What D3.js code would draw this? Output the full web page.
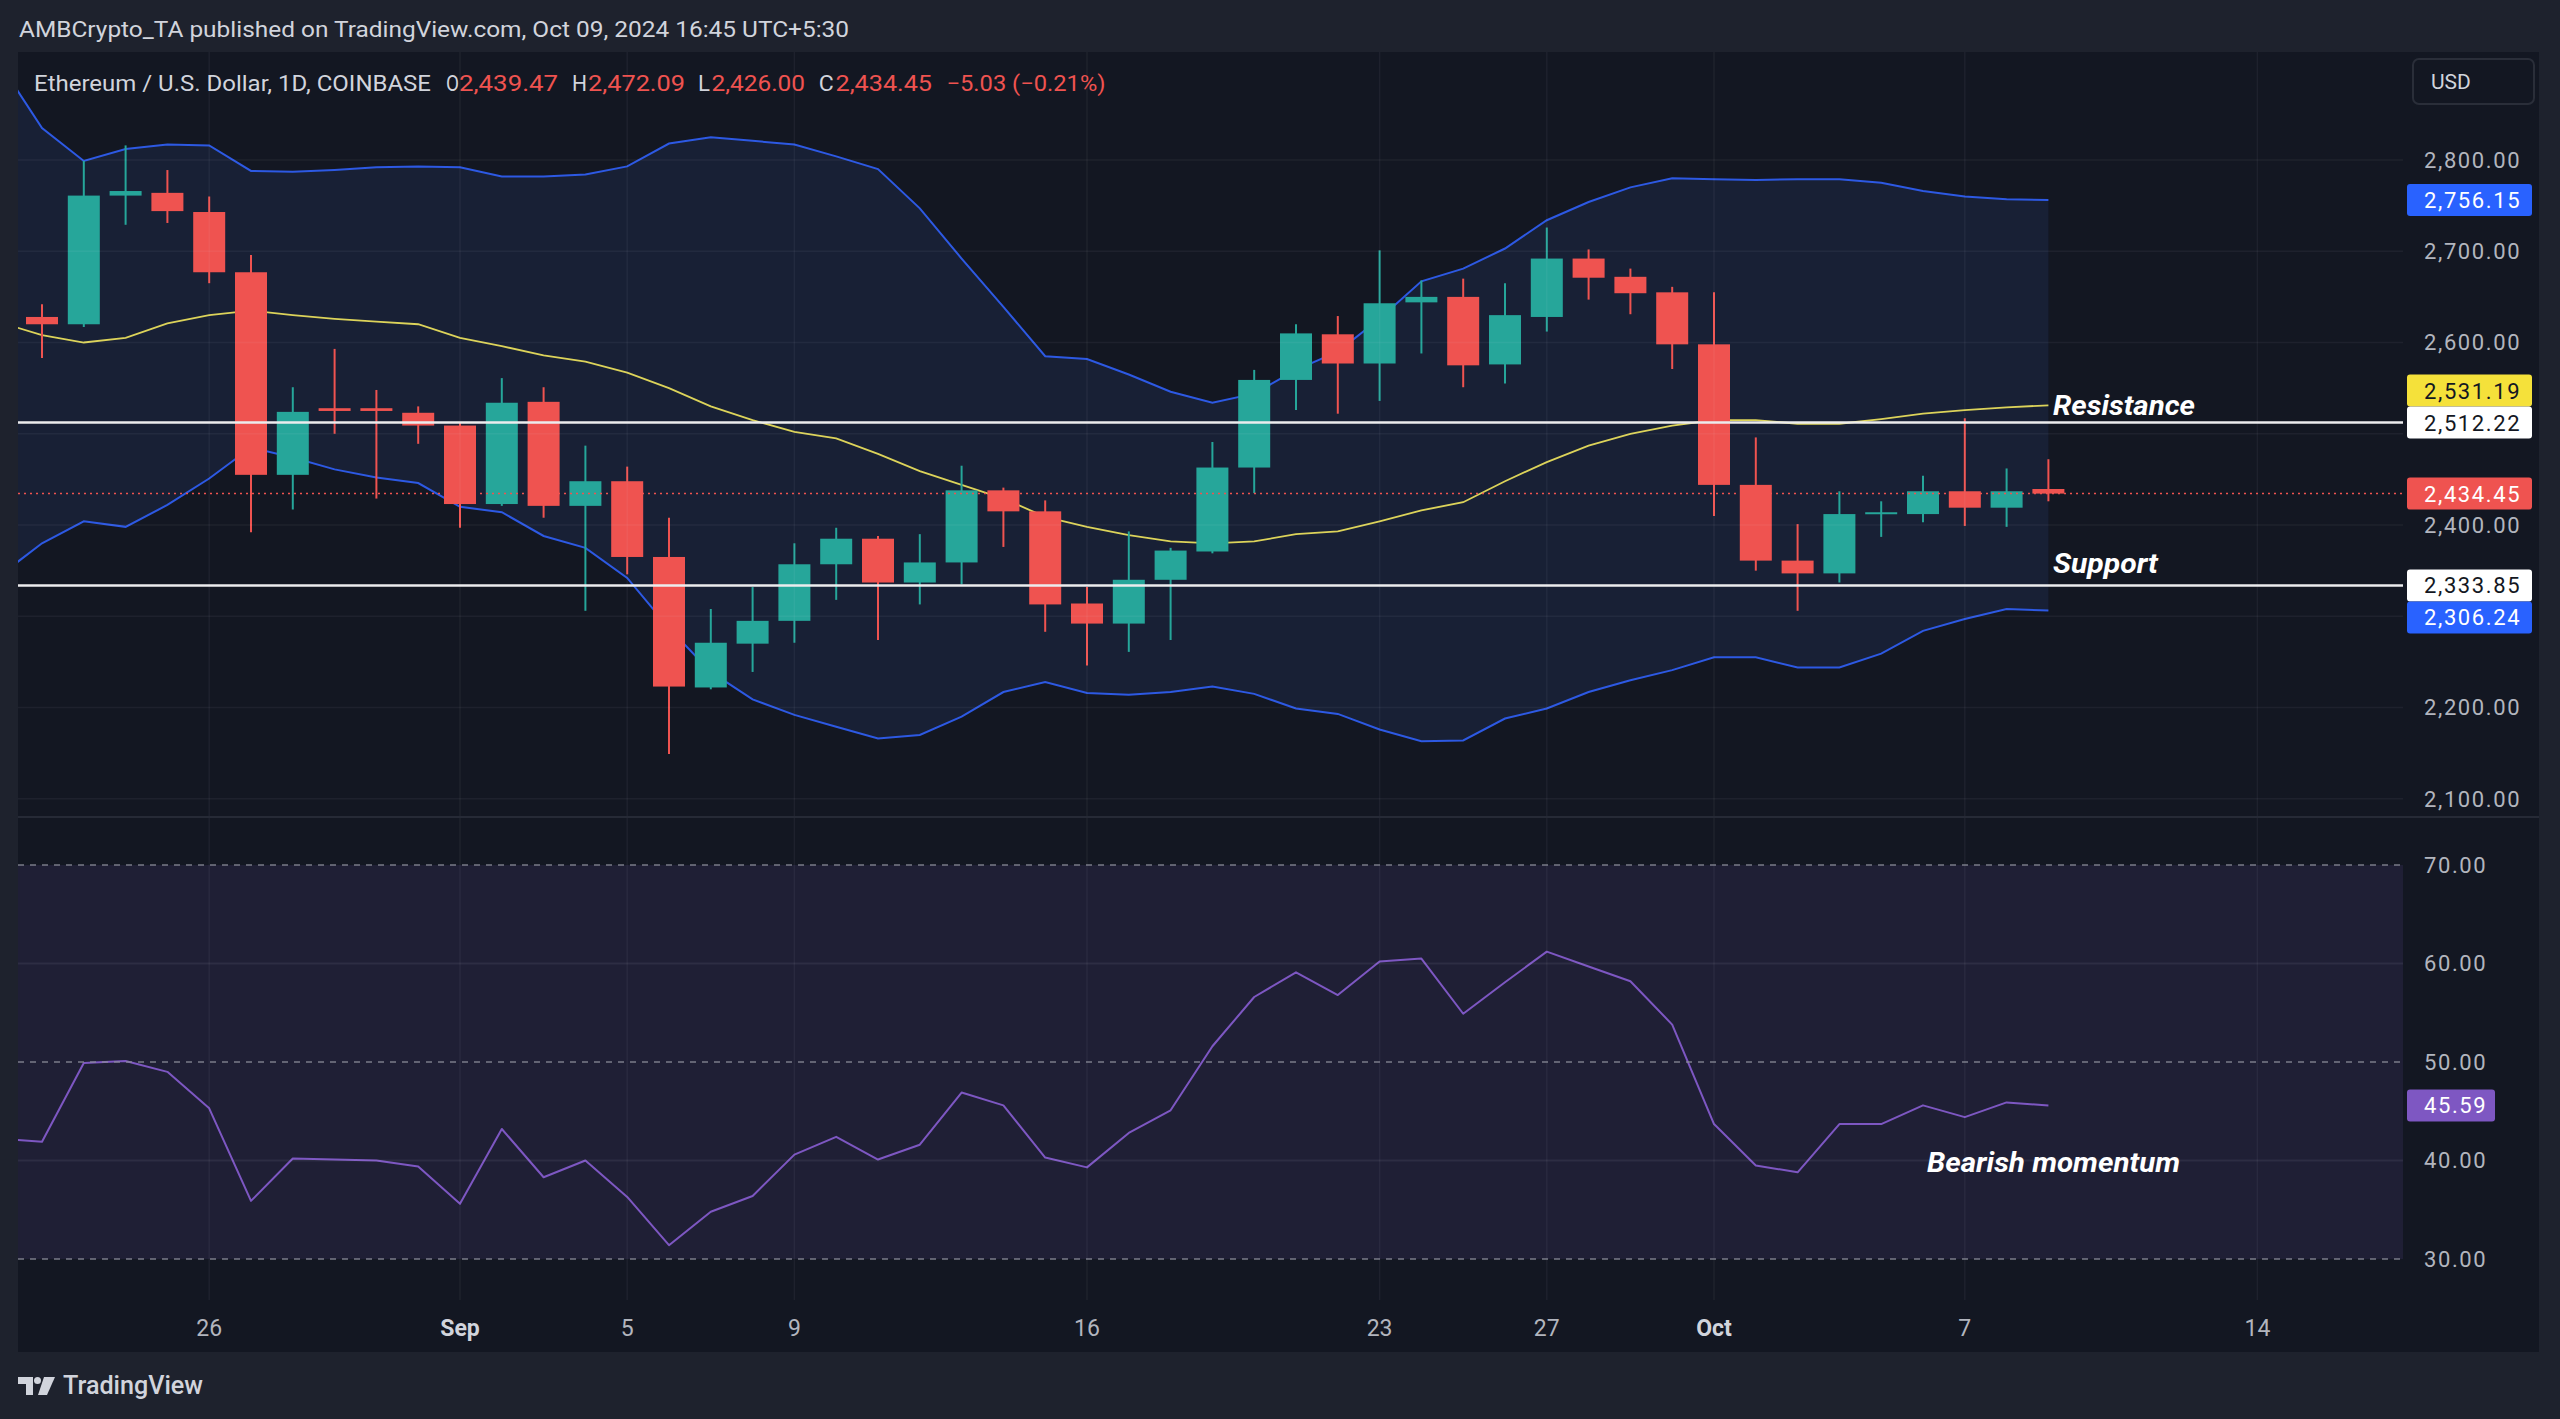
<!DOCTYPE html>
<html><head><meta charset="utf-8">
<script src="https://cdn.jsdelivr.net/npm/d3@7"></script>
<style>
html,body{margin:0;padding:0;background:#1e222d;overflow:hidden}
svg{display:block}
text{font-family:Roboto,"Noto Sans",sans-serif}
</style></head><body>
<svg id="chart" width="2560" height="1419"></svg>
<script>
// ---------- DATA ----------
const dates = ["2024-08-21","2024-08-22","2024-08-23","2024-08-24","2024-08-25","2024-08-26","2024-08-27","2024-08-28","2024-08-29","2024-08-30","2024-08-31",
"2024-09-01","2024-09-02","2024-09-03","2024-09-04","2024-09-05","2024-09-06","2024-09-07","2024-09-08","2024-09-09","2024-09-10",
"2024-09-11","2024-09-12","2024-09-13","2024-09-14","2024-09-15","2024-09-16","2024-09-17","2024-09-18","2024-09-19","2024-09-20",
"2024-09-21","2024-09-22","2024-09-23","2024-09-24","2024-09-25","2024-09-26","2024-09-27","2024-09-28","2024-09-29","2024-09-30",
"2024-10-01","2024-10-02","2024-10-03","2024-10-04","2024-10-05","2024-10-06","2024-10-07","2024-10-08","2024-10-09"];

// candles Aug 22 .. Oct 9
const open  = [2628,2620,2761,2764,2743,2677,2455,2528,2528,2523,2509,2423,2535,2421,2448,2365,2222,2270,2295,2357,2385,2337,2359,2438,2415,2314,2292,2340,2371,2463,2559,2609,2577,2644,2650,2576,2628,2692,2672,2655,2598,2444,2361,2347,2412,2412,2437,2419,2439.47];
const high  = [2642,2799,2816,2789,2760,2696,2551,2593,2548,2530,2512,2561,2551,2487,2464,2408,2308,2332,2380,2397,2388,2390,2465,2441,2427,2332,2393,2375,2491,2570,2620,2629,2701,2668,2670,2665,2726,2702,2681,2661,2655,2496,2401,2437,2426,2454,2517,2462,2472.09];
const low   = [2583,2617,2729,2731,2665,2392,2417,2500,2429,2489,2397,2421,2408,2306,2346,2149,2220,2239,2271,2318,2274,2313,2335,2376,2283,2246,2261,2274,2369,2435,2526,2522,2536,2588,2551,2555,2612,2647,2631,2571,2410,2350,2306,2337,2387,2403,2399,2398,2426.00];
const close = [2620,2761,2766,2744,2677,2455,2524,2525,2525,2509,2423,2534,2421,2448,2365,2223,2271,2295,2357,2385,2337,2359,2438,2415,2313,2292,2340,2372,2463,2559,2610,2577,2643,2650,2575,2630,2692,2671,2654,2598,2444,2361,2347,2412,2414,2437,2419,2437,2434.45];

// Bollinger bands Aug 21 .. Oct 9
const bbUpper = [2905,2835,2799,2812,2817,2816,2788,2787,2789,2792,2793,2792,2782,2782,2784,2793,2818,2825,2821,2817,2804,2790,2747,2692,2639,2585,2582,2565,2546,2534,2544,2570,2590,2626,2667,2681,2703,2734,2754,2770,2780,2779,2778,2779,2779,2775,2766,2760,2757,2756.15];
const bbBasis = [2622,2608,2600,2605,2621,2630,2635,2630,2626,2623,2620,2605,2596,2586,2579,2567,2550,2530,2515,2502,2495,2478,2459,2444,2429,2409,2398,2389,2382,2380,2382,2390,2393,2404,2416,2425,2448,2469,2487,2500,2509,2515,2515,2511,2511,2516,2522,2526,2529,2531.19];
const bbLower = [2345,2380,2404,2398,2422,2451,2485,2474,2461,2452,2446,2420,2414,2388,2375,2342,2287,2239,2209,2192,2179,2166,2170,2190,2217,2228,2216,2214,2217,2223,2215,2199,2193,2176,2163,2164,2188,2199,2217,2230,2241,2255,2255,2244,2244,2259,2284,2297,2308,2306.24];

// RSI Aug 21 .. Oct 9
const rsi = [42.2,41.9,49.9,50.1,49.0,45.3,35.9,40.2,40.1,40.0,39.4,35.6,43.2,38.3,40.0,36.3,31.4,34.8,36.4,40.6,42.4,40.1,41.6,46.9,45.6,40.3,39.3,42.8,45.1,51.6,56.6,59.1,56.8,60.2,60.5,54.9,58.1,61.2,59.7,58.2,53.8,43.7,39.5,38.8,43.7,43.7,45.6,44.4,45.9,45.59];

const resistanceLevel = 2512.22;
const supportLevel = 2333.85;
const lastPrice = 2434.45;

const priceTicks = [2100,2200,2300,2400,2500,2600,2700,2800];
const rsiTicks = [30,40,50,60,70];
const rsiDashed = [30,50,70];
const timeTickDates = ["2024-08-26","2024-09-01","2024-09-05","2024-09-09","2024-09-16","2024-09-23","2024-09-27","2024-10-01","2024-10-07","2024-10-14"];
const timeTickLabels = ["26","Sep","5","9","16","23","27","Oct","7","14"];
const timeTickBold = [false,true,false,false,false,false,false,true,false,false];

const priceLabelValues = [2756.15, 2531.19, 2512.22, 2434.45, 2333.85, 2306.24];
const priceLabelKinds  = ["band","basis","level","last","level","band"];
const rsiLabelValue = 45.59;

const headerText = "AMBCrypto_TA published on TradingView.com, Oct 09, 2024 16:45 UTC+5:30";
const legendParts = [
  {t:"Ethereum / U.S. Dollar, 1D, COINBASE", x:34, w:397, c:"#d1d4dc"},
  {t:"O", x:446, w:13, c:"#d1d4dc"},
  {t:"2,439.47", x:459, w:99, c:"#ef5350"},
  {t:"H", x:572, w:15, c:"#d1d4dc"},
  {t:"2,472.09", x:588, w:97, c:"#ef5350"},
  {t:"L", x:698, w:12, c:"#d1d4dc"},
  {t:"2,426.00", x:711.5, w:93.5, c:"#ef5350"},
  {t:"C", x:818.7, w:15, c:"#d1d4dc"},
  {t:"2,434.45", x:835.5, w:96.5, c:"#ef5350"},
  {t:"\u22125.03 (\u22120.21%)", x:946.5, w:159, c:"#ef5350"}
];

// ---------- LAYOUT ----------
const svg = d3.select("#chart");
const parse = d3.timeParse("%Y-%m-%d");
const D = dates.map(parse);
const CD = D.slice(1);
const X0 = 18, X1 = 2539, PLOT_R = 2403, TOP = 52, BOTTOM = 1352, PRICE_B = 816, RSI_T = 818, RSI_B = 1300;
const AXIS_TX = 2424;

const x = d3.scaleTime().domain([parse("2024-08-22"), parse("2024-10-14")]).range([42, 2257.4]);
const yP = d3.scaleLinear().domain([2100, 2800]).range([798.8, 160]);
const yR = d3.scaleLinear().domain([30, 70]).range([1259, 865]);

const defs = svg.append("defs");
defs.append("clipPath").attr("id","clipP").append("rect").attr("x",X0).attr("y",TOP).attr("width",PLOT_R-X0).attr("height",PRICE_B-TOP);
defs.append("clipPath").attr("id","clipR").append("rect").attr("x",X0).attr("y",RSI_T).attr("width",PLOT_R-X0).attr("height",RSI_B-RSI_T);

// backgrounds
svg.append("rect").attr("width",2560).attr("height",1419).attr("fill","#1e222d");
svg.append("rect").attr("x",X0).attr("y",TOP).attr("width",X1-X0).attr("height",BOTTOM-TOP).attr("fill","#131722");

const gP = svg.append("g").attr("clip-path","url(#clipP)");
const gR = svg.append("g").attr("clip-path","url(#clipR)");

// band fill
const bandData = D.map((d,i)=>({d, u:bbUpper[i], m:bbBasis[i], l:bbLower[i]}));
gP.append("path").datum(bandData)
  .attr("d", d3.area().x(p=>x(p.d)).y0(p=>yP(p.l)).y1(p=>yP(p.u)))
  .attr("fill","#182035");

// RSI fill
svg.append("rect").attr("x",X0).attr("y",yR(70)).attr("width",PLOT_R-X0).attr("height",yR(30)-yR(70))
  .attr("fill","rgba(126,87,194,0.12)");

// grid
const gridCol = "rgba(240,243,250,0.05)";
const TD = timeTickDates.map(parse);
svg.append("g").selectAll("line").data(TD).join("line")
  .attr("x1",d=>x(d)).attr("x2",d=>x(d)).attr("y1",TOP).attr("y2",RSI_B)
  .attr("stroke",gridCol).attr("stroke-width",1.5);
svg.append("g").selectAll("line").data(priceTicks).join("line")
  .attr("x1",X0).attr("x2",PLOT_R).attr("y1",d=>yP(d)).attr("y2",d=>yP(d))
  .attr("stroke",gridCol).attr("stroke-width",1.5);
svg.append("g").selectAll("line").data(rsiTicks.filter(v=>!rsiDashed.includes(v))).join("line")
  .attr("x1",X0).attr("x2",PLOT_R).attr("y1",d=>yR(d)).attr("y2",d=>yR(d))
  .attr("stroke","rgba(240,243,250,0.07)").attr("stroke-width",2);
svg.append("g").selectAll("line").data(rsiDashed).join("line")
  .attr("x1",X0).attr("x2",PLOT_R).attr("y1",d=>yR(d)).attr("y2",d=>yR(d))
  .attr("stroke","#8a8d99").attr("stroke-width",1.6).attr("stroke-dasharray","6,6").attr("opacity",0.85);

// pane separator
svg.append("line").attr("x1",X0).attr("x2",X1).attr("y1",817).attr("y2",817).attr("stroke","#262a36").attr("stroke-width",2);

// RSI line
gR.append("path").datum(D.map((d,i)=>({d, v:rsi[i]})))
  .attr("d", d3.line().x(p=>x(p.d)).y(p=>yR(p.v)))
  .attr("fill","none").attr("stroke","#7e57c2").attr("stroke-width",2).attr("stroke-linejoin","round");

// Bollinger lines
const lineGen = key => d3.line().x(p=>x(p.d)).y(p=>yP(p[key]));
gP.append("path").datum(bandData).attr("d",lineGen("u")).attr("fill","none").attr("stroke","#2d59e3").attr("stroke-width",2);
gP.append("path").datum(bandData).attr("d",lineGen("l")).attr("fill","none").attr("stroke","#2d59e3").attr("stroke-width",2);
gP.append("path").datum(bandData).attr("d",lineGen("m")).attr("fill","none").attr("stroke","#dcd35a").attr("stroke-width",1.8);

// candles
const up = "#26a69a", dn = "#ef5350";
const candles = CD.map((d,i)=>({d, o:open[i], h:high[i], l:low[i], c:close[i]}));
const gc = gP.append("g");
gc.selectAll("line").data(candles).join("line")
  .attr("x1",c=>x(c.d)).attr("x2",c=>x(c.d)).attr("y1",c=>yP(c.h)).attr("y2",c=>yP(c.l))
  .attr("stroke",c=>c.c>=c.o?up:dn).attr("stroke-width",2);
gc.selectAll("rect").data(candles).join("rect")
  .attr("x",c=>x(c.d)-16).attr("width",32)
  .attr("y",c=>Math.min(yP(c.o),yP(c.c)))
  .attr("height",c=>Math.max(2,Math.abs(yP(c.o)-yP(c.c))))
  .attr("fill",c=>c.c>=c.o?up:dn);

// horizontal levels
[resistanceLevel, supportLevel].forEach(v=>{
  svg.append("line").attr("x1",X0).attr("x2",PLOT_R).attr("y1",yP(v)).attr("y2",yP(v))
    .attr("stroke","#ececee").attr("stroke-width",2.5);
});
svg.append("line").attr("x1",X0).attr("x2",PLOT_R).attr("y1",yP(lastPrice)).attr("y2",yP(lastPrice))
  .attr("stroke","#ef5350").attr("stroke-width",1.5).attr("stroke-dasharray","2,4");

// annotations
const ann = [
  {t:"Resistance", x:2053, y:415, w:142},
  {t:"Support", x:2053, y:573, w:105},
  {t:"Bearish momentum", x:1927, y:1172, w:253}
];
svg.append("g").selectAll("text").data(ann).join("text")
  .attr("x",a=>a.x).attr("y",a=>a.y).text(a=>a.t)
  .attr("textLength",a=>a.w).attr("lengthAdjust","spacingAndGlyphs")
  .attr("fill","#ffffff").attr("font-size",28).attr("font-weight",700).attr("font-style","italic");

// price label boxes with simple collision handling
const LH = 32;
const kindStyle = {band:{bg:"#2962ff",fg:"#ffffff"}, basis:{bg:"#f5e13a",fg:"#131722"}, level:{bg:"#ffffff",fg:"#131722"}, last:{bg:"#ef5350",fg:"#ffffff"}};
const labels = priceLabelValues.map((v,i)=>({v, kind:priceLabelKinds[i], y:yP(v)}));
const fixed = labels.filter(l=>l.kind==="level"||l.kind==="last");
labels.filter(l=>!fixed.includes(l)).forEach(l=>{
  fixed.forEach(f=>{
    if (Math.abs(l.y-f.y) < LH) l.y = l.y < f.y ? f.y - LH : f.y + LH;
  });
});

// price axis tick labels (hidden where a value label covers them, as on the original)
const visibleTicks = priceTicks.filter(t=>labels.every(l=>Math.abs(yP(t)-l.y) > LH/2 + 11));
svg.append("g").selectAll("text").data(visibleTicks).join("text")
  .attr("x",AXIS_TX).attr("y",d=>yP(d)).attr("dy","0.36em")
  .text(d=>d3.format(",.2f")(d))
  .attr("fill","#b2b5be").attr("font-size",22).attr("letter-spacing","1.6px");
svg.append("g").selectAll("text").data(rsiTicks).join("text")
  .attr("x",AXIS_TX).attr("y",d=>yR(d)).attr("dy","0.36em")
  .text(d=>d3.format(".2f")(d))
  .attr("fill","#b2b5be").attr("font-size",22).attr("letter-spacing","1.6px");

const gl = svg.append("g");
labels.forEach(l=>{
  const s = kindStyle[l.kind];
  gl.append("rect").attr("x",2407).attr("y",l.y-LH/2).attr("width",125).attr("height",LH).attr("rx",3).attr("fill",s.bg);
  gl.append("text").attr("x",AXIS_TX).attr("y",l.y).attr("dy","0.36em").text(d3.format(",.2f")(l.v))
    .attr("fill",s.fg).attr("font-size",22).attr("letter-spacing","1.6px");
});
gl.append("rect").attr("x",2407).attr("y",yR(rsiLabelValue)-LH/2).attr("width",88).attr("height",LH).attr("rx",3).attr("fill","#7e57c2");
gl.append("text").attr("x",AXIS_TX).attr("y",yR(rsiLabelValue)).attr("dy","0.36em").text(d3.format(".2f")(rsiLabelValue))
  .attr("fill","#ffffff").attr("font-size",22).attr("letter-spacing","1.6px");

// time axis labels
svg.append("g").selectAll("text").data(TD).join("text")
  .attr("x",d=>x(d)).attr("y",1336).attr("text-anchor","middle")
  .text((d,i)=>timeTickLabels[i])
  .attr("font-weight",(d,i)=>timeTickBold[i]?700:400)
  .attr("fill",(d,i)=>timeTickBold[i]?"#d1d4dc":"#b2b5be").attr("font-size",23);

// header
svg.append("text").attr("x",19).attr("y",37).text(headerText)
  .attr("textLength",830).attr("lengthAdjust","spacingAndGlyphs")
  .attr("fill","#d1d4dc").attr("font-size",22);

// legend
svg.append("g").selectAll("text").data(legendParts).join("text")
  .attr("x",p=>p.x).attr("y",91).text(p=>p.t)
  .attr("textLength",p=>p.w).attr("lengthAdjust","spacingAndGlyphs")
  .attr("fill",p=>p.c).attr("font-size",22);

// USD box
svg.append("rect").attr("x",2413).attr("y",59).attr("width",121).attr("height",45).attr("rx",6)
  .attr("fill","#131722").attr("stroke","#2a2e39").attr("stroke-width",2);
svg.append("text").attr("x",2431).attr("y",89).text("USD").attr("fill","#d1d4dc").attr("font-size",21);

// TradingView logo
const lg = svg.append("g").attr("fill","#d1d4dc");
lg.append("path").attr("d","M18,1377 H33 V1395 H26 V1384 H18 Z");
lg.append("circle").attr("cx",37.5).attr("cy",1380.5).attr("r",3.5);
lg.append("path").attr("d","M44,1377 H55 L47,1395 H38 Z");
svg.append("text").attr("x",63).attr("y",1394).text("TradingView")
  .attr("textLength",140).attr("lengthAdjust","spacingAndGlyphs")
  .attr("fill","#d1d4dc").attr("font-size",25).attr("font-weight",500);
</script>
</body></html>
